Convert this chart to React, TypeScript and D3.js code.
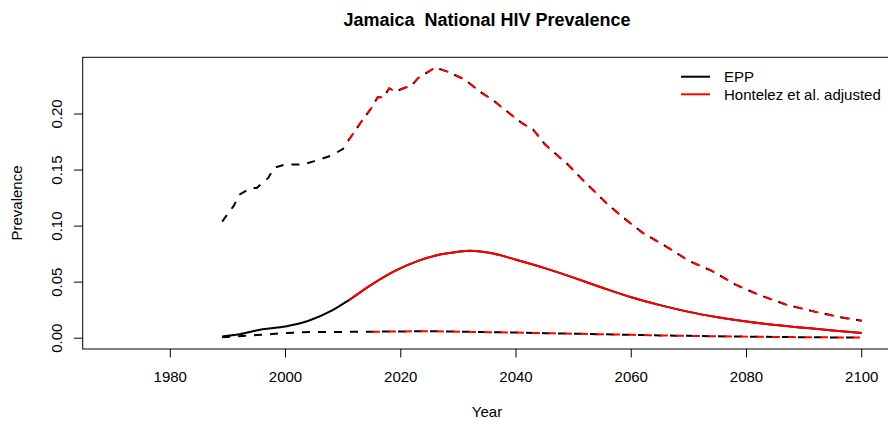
import React from 'react';
import * as d3 from 'd3';

// EPP central estimate
const centralYears = [1989, 1992, 1996, 2000, 2004, 2008, 2011, 2015, 2019, 2023, 2027, 2030, 2032, 2036, 2040, 2045, 2050, 2055, 2060, 2065, 2070, 2075, 2080, 2085, 2090, 2095, 2100];
const centralValues = [0.0015, 0.0035, 0.008, 0.0105, 0.0155, 0.0245, 0.034, 0.048, 0.060, 0.069, 0.0748, 0.0772, 0.078, 0.0755, 0.070, 0.0625, 0.054, 0.045, 0.0365, 0.0295, 0.0235, 0.0187, 0.0148, 0.0117, 0.0093, 0.0069, 0.0046];

// upper bound
const upperYears = [1989, 1991, 1992, 1994, 1995, 1997, 1998, 2000, 2003, 2005, 2008, 2010, 2011, 2013, 2015, 2016, 2017, 2018, 2019, 2022, 2023, 2026, 2028, 2031, 2034, 2036, 2038, 2041, 2043, 2045, 2049, 2052, 2056, 2059, 2062, 2066, 2070, 2074, 2078, 2082, 2087, 2092, 2096, 2100];
const upperValues = [0.104, 0.118, 0.128, 0.134, 0.134, 0.143, 0.152, 0.155, 0.155, 0.158, 0.163, 0.169, 0.177, 0.192, 0.206, 0.215, 0.215, 0.223, 0.220, 0.226, 0.232, 0.2415, 0.238, 0.231, 0.219, 0.2125, 0.204, 0.192, 0.186, 0.173, 0.155, 0.139, 0.119, 0.106, 0.094, 0.082, 0.069, 0.060, 0.048, 0.039, 0.0297, 0.0235, 0.019, 0.0155];

// lower bound
const lowerYears = [1989, 1995, 2000, 2005, 2010, 2015, 2020, 2025, 2030, 2035, 2040, 2045, 2050, 2055, 2060, 2065, 2070, 2075, 2080, 2085, 2090, 2095, 2100];
const lowerValues = [0.0008, 0.0028, 0.0045, 0.0055, 0.0056, 0.0058, 0.006, 0.0062, 0.0058, 0.0054, 0.005, 0.0045, 0.004, 0.0035, 0.003, 0.0025, 0.0021, 0.0017, 0.0014, 0.0011, 0.0009, 0.0007, 0.0005];

// Hontelez adjusted starts in 2011
const adjustStart = 2011;

const xTicks = [1980, 2000, 2020, 2040, 2060, 2080, 2100];
const yTicks = [0, 0.05, 0.1, 0.15, 0.2];
const legendLabels = ['EPP', 'Hontelez et al. adjusted'];
const legendColors = ['#000000', '#ff0000'];

const width = 888;
const height = 421;
const font = 'Liberation Sans, Arial, Helvetica, sans-serif';

const x = d3.scaleLinear().domain([1964.8, 2105.2]).range([82.7, 891.7]);
const y = d3.scaleLinear().domain([-0.00964, 0.2506]).range([349, 57.3]);

type Pt = [number, number];
const zip = (ys: number[], vs: number[]): Pt[] => ys.map((yr, i) => [yr, vs[i]]);
const from = (pts: Pt[], yr: number) => pts.filter(p => p[0] >= yr);

const smooth = d3.line<Pt>().x(d => x(d[0])).y(d => y(d[1])).curve(d3.curveMonotoneX);
const straight = d3.line<Pt>().x(d => x(d[0])).y(d => y(d[1]));

const central = zip(centralYears, centralValues);
const upper = zip(upperYears, upperValues);
const lower = zip(lowerYears, lowerValues);

const App: React.FC = () => {
  const dash = '8,8';
  return (
    <svg width={width} height={height} style={{ position: 'absolute', left: 0, top: 0 }} fontFamily={font}>
      <rect width={width} height={height} fill="#fff" />
      <text x={487} y={26} textAnchor="middle" fontWeight="bold" fontSize={18} style={{ whiteSpace: 'pre' }}>{'Jamaica  National HIV Prevalence'}</text>

      {/* box */}
      <rect x={82.7} y={57.3} width={891.7 - 82.7} height={349 - 57.3} fill="none" stroke="#000" strokeWidth={1} />

      {/* EPP */}
      <path d={smooth(central) || ''} fill="none" stroke="#000" strokeWidth={2} />
      <path d={straight(upper) || ''} fill="none" stroke="#000" strokeWidth={2} strokeDasharray={dash} />
      <path d={smooth(lower) || ''} fill="none" stroke="#000" strokeWidth={2} strokeDasharray={dash} />

      {/* Hontelez adjusted */}
      <path d={smooth(from(central, adjustStart)) || ''} fill="none" stroke="#ff0000" strokeWidth={2} />
      <path d={straight(from(upper, adjustStart)) || ''} fill="none" stroke="#ff0000" strokeWidth={2} strokeDasharray={dash} />
      <path d={smooth(from(lower, adjustStart)) || ''} fill="none" stroke="#ff0000" strokeWidth={2} strokeDasharray={dash} />

      {/* x axis */}
      {xTicks.map(t => (
        <g key={t}>
          <line x1={x(t)} x2={x(t)} y1={349} y2={357.5} stroke="#000" />
          <text x={x(t)} y={382} textAnchor="middle" fontSize={15}>{t}</text>
        </g>
      ))}
      <text x={487} y={417} textAnchor="middle" fontSize={15}>Year</text>

      {/* y axis */}
      {yTicks.map(t => (
        <g key={t}>
          <line x1={74} x2={82.7} y1={y(t)} y2={y(t)} stroke="#000" />
          <text transform={`translate(62,${y(t)}) rotate(-90)`} textAnchor="middle" fontSize={15}>{t.toFixed(2)}</text>
        </g>
      ))}
      <text transform={`translate(22,203) rotate(-90)`} textAnchor="middle" fontSize={15}>Prevalence</text>

      {/* legend */}
      {legendLabels.map((l, i) => (
        <g key={l}>
          <line x1={681} x2={710} y1={76.7 + i * 17.6} y2={76.7 + i * 17.6} stroke={legendColors[i]} strokeWidth={2} />
          <text x={724} y={76.7 + i * 17.6} dominantBaseline="central" fontSize={15}>{l}</text>
        </g>
      ))}
    </svg>
  );
};

export default App;
